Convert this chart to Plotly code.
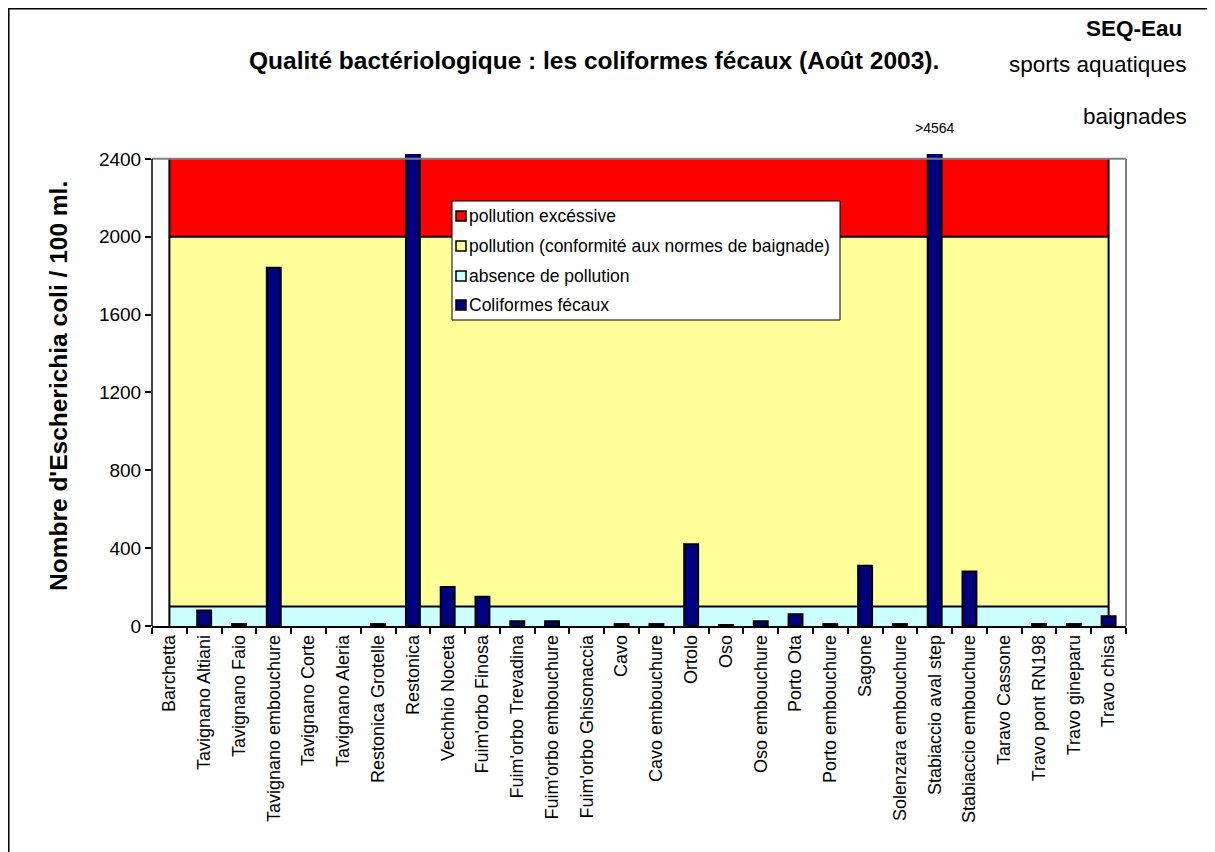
import plotly.graph_objects as go

# ---------------- data ----------------
categories = [
    "Barchetta", "Tavignano Altiani", "Tavignano Faio", "Tavignano embouchure",
    "Tavignano Corte", "Tavignano Aleria", "Restonica Grotelle", "Restonica",
    "Vechhio Noceta", "Fuim'orbo Finosa", "Fuim'orbo Trevadina", "Fuim'orbo embouchure",
    "Fuim'orbo Ghisonaccia", "Cavo", "Cavo embouchure", "Ortolo", "Oso",
    "Oso embouchure", "Porto Ota", "Porto embouchure", "Sagone",
    "Solenzara embouchure", "Stabiaccio aval step", "Stabiaccio embouchure",
    "Taravo Cassone", "Travo pont RN198", "Travo gineparu", "Travo chisa",
]
# None = no bar visible in the chart
coliformes = [
    None, 80, 10, 1840,
    None, None, 10, 2600,
    200, 150, 25, 25,
    None, 10, 10, 420, 5,
    25, 60, 10, 310,
    10, 4564, 280,
    None, 10, 10, 50,
]
band_names = ["absence de pollution", "pollution (conformité aux normes de baignade)", "pollution excéssive"]
band_low = [0, 100, 2000]
band_high = [100, 2000, 2400]
band_colors = ["#CCFFFF", "#FFFF99", "#FF0000"]
y_ticks = [0, 400, 800, 1200, 1600, 2000, 2400]
labelled_station = "Stabiaccio aval step"

# ---------------- layout geometry (screen pixels; page has an 8px body margin) ----------------
W, H = 1215, 852
OFF = 8
L, R, T, B = 152, 1126, 154, 626


def px(x):
    return (x - L) / (R - L)


def py(y):
    return (B - y) / (B - T)


FONT = "Liberation Sans, Arial, sans-serif"
fig = go.Figure()

shapes = []
# background bands (drawn below the bars)
for lo, hi, col in zip(band_low, band_high, band_colors):
    shapes.append(dict(type="rect", xref="x", yref="y", x0=categories[0], x1=categories[-1],
                       y0=lo, y1=hi, fillcolor=col, line=dict(width=0), layer="below"))
for lvl in band_high[:-1]:
    shapes.append(dict(type="line", xref="x", yref="y", x0=categories[0], x1=categories[-1],
                       y0=lvl, y1=lvl, line=dict(color="black", width=2), layer="below"))
for c in (categories[0], categories[-1]):
    shapes.append(dict(type="line", xref="x", yref="y", x0=c, x1=c,
                       y0=band_low[0], y1=band_high[-1], line=dict(color="black", width=2),
                       layer="below"))

fig.add_trace(go.Bar(
    x=categories, y=coliformes, name="Coliformes fécaux",
    marker=dict(color="#000080", line=dict(color="black", width=2)),
    width=0.4, showlegend=False,
))

# gray plot-area frame
shapes.append(dict(type="line", xref="paper", yref="y", x0=0, x1=1, y0=2400, y1=2400,
                   line=dict(color="#808080", width=2)))
shapes.append(dict(type="line", xref="paper", yref="y", x0=1, x1=1, y0=0, y1=2400,
                   line=dict(color="#808080", width=2)))
# y axis line
shapes.append(dict(type="line", xref="paper", yref="y", x0=0, x1=0, y0=0, y1=2400,
                   line=dict(color="black", width=1.5)))
# outer chart frame
shapes.append(dict(type="rect", xref="paper", yref="paper", x0=px(8.8), x1=px(1240),
                   y0=py(900), y1=py(8.8), line=dict(color="black", width=1.5),
                   fillcolor="rgba(0,0,0,0)", layer="above"))

annotations = []
# manual legend
legend_items = [
    ("pollution excéssive", "#FF0000"),
    ("pollution (conformité aux normes de baignade)", "#FFFF99"),
    ("absence de pollution", "#CCFFFF"),
    ("Coliformes fécaux", "#000080"),
]
shapes.append(dict(type="rect", xref="paper", yref="paper", x0=px(452), x1=px(840),
                   y0=py(320), y1=py(201), line=dict(color="black", width=1),
                   fillcolor="white", layer="above"))
row_y = [216, 246, 276, 305]
for (txt, col), ry in zip(legend_items, row_y):
    shapes.append(dict(type="rect", xref="paper", yref="paper", x0=px(456), x1=px(466),
                       y0=py(ry + 5), y1=py(ry - 5), line=dict(color="black", width=1.5),
                       fillcolor=col, layer="above"))
    annotations.append(dict(text=txt, xref="paper", yref="paper", x=px(467), y=py(ry),
                            xanchor="left", yanchor="middle", showarrow=False,
                            font=dict(family=FONT, size=17.5, color="black")))

# titles and texts
annotations.append(dict(text="<b>Qualité bactériologique : les coliformes fécaux (Août 2003).</b>",
                        xref="paper", yref="paper", x=px(594), y=py(60), xanchor="center",
                        yanchor="middle", showarrow=False,
                        font=dict(family=FONT, size=24.5, color="black")))
annotations.append(dict(text="<b>SEQ-Eau</b>", xref="paper", yref="paper", x=px(1184), y=py(28),
                        xanchor="right", yanchor="middle", showarrow=False,
                        font=dict(family=FONT, size=22.5, color="black")))
annotations.append(dict(text="sports aquatiques", xref="paper", yref="paper", x=px(1189), y=py(64),
                        xanchor="right", yanchor="middle", showarrow=False,
                        font=dict(family=FONT, size=22.5, color="black")))
annotations.append(dict(text="baignades", xref="paper", yref="paper", x=px(1189), y=py(116),
                        xanchor="right", yanchor="middle", showarrow=False,
                        font=dict(family=FONT, size=22.5, color="black")))
annotations.append(dict(text="<b>Nombre d'Escherichia coli / 100 ml.</b>", xref="paper", yref="paper",
                        x=px(58), y=py(386), textangle=-90, xanchor="center", yanchor="middle",
                        showarrow=False, font=dict(family=FONT, size=24.5, color="black")))
val = coliformes[categories.index(labelled_station)]
annotations.append(dict(text=f">{val}", xref="x", yref="paper", x=labelled_station, y=py(128),
                        xanchor="center", yanchor="middle", showarrow=False,
                        font=dict(family=FONT, size=14, color="black")))

fig.update_layout(
    width=W, height=H,
    margin=dict(l=L - OFF, r=W - (R - OFF), t=T - OFF, b=H - (B - OFF), pad=0),
    paper_bgcolor="white", plot_bgcolor="white",
    showlegend=False,
    shapes=shapes, annotations=annotations,
    font=dict(family=FONT, color="black"),
    xaxis=dict(type="category", categoryorder="array", categoryarray=categories,
               range=[-0.5, len(categories) - 0.5], showgrid=False, zeroline=False,
               showline=True, linecolor="black", linewidth=1.5, automargin=False,
               ticks="outside", tickson="boundaries", ticklen=6, tickcolor="black", tickwidth=1.5,
               tickangle=-90, tickfont=dict(family=FONT, size=18, color="black")),
    yaxis=dict(range=[0, 2425], tickvals=y_ticks, showgrid=False, zeroline=False, automargin=False,
               showline=False, ticks="outside", ticklen=6, tickcolor="black", tickwidth=1.5,
               tickfont=dict(family=FONT, size=19, color="black")),
)

fig.write_html("out.html")
